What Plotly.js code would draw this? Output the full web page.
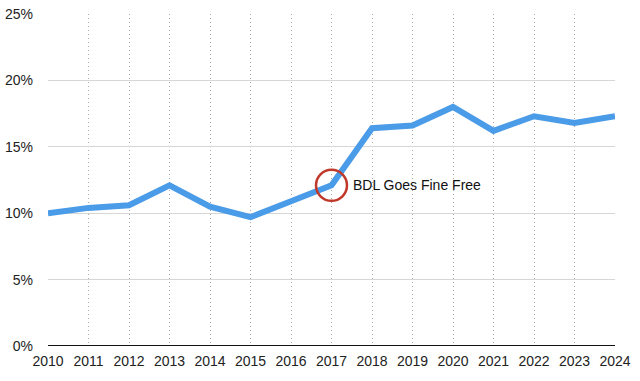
<!DOCTYPE html>
<html>
<head>
<meta charset="utf-8">
<script src="https://cdn.plot.ly/plotly-3.0.1.min.js"></script>
<style>html,body{margin:0;padding:0;background:#fff;}#chart{width:640px;height:381px;}</style>
</head>
<body>
<div id="chart"></div>
<script>
const years = [2010,2011,2012,2013,2014,2015,2016,2017,2018,2019,2020,2021,2022,2023,2024];
const shares = [10.0,10.4,10.6,12.1,10.5,9.7,10.9,12.1,16.4,16.6,18.0,16.2,17.3,16.8,17.3];
const eventYear = [2017];
const eventShare = [12.1];
const eventLabel = "BDL Goes Fine Free";
const yTicks = [0,5,10,15,20,25];
const yTickText = ["0%","5%","10%","15%","20%","25%"];

const font = {family: "Liberation Sans, Arial, Helvetica, sans-serif", size: 14, color: "#222"};

const traces = [
  {x: years, y: shares, type: "scatter", mode: "lines",
   line: {color: "#4a9be8", width: 6}, hoverinfo: "skip"},
  {x: eventYear, y: eventShare, type: "scatter", mode: "markers",
   marker: {symbol: "circle-open", size: 31, color: "#c0392b", line: {color: "#c0392b", width: 2.5}},
   hoverinfo: "skip"}
];

const layout = {
  width: 640, height: 381,
  margin: {l: 48, r: 25, t: 14, b: 35},
  paper_bgcolor: "#fff", plot_bgcolor: "#fff",
  showlegend: false,
  font: font,
  xaxis: {range: [2010, 2024], tickvals: years, ticktext: years.map(String),
          showgrid: true, gridcolor: "#aaa", griddash: "1px,3px", gridwidth: 1,
          zeroline: false, showline: false, ticks: "", ticklen: 0, tickfont: font,
          ticklabelstandoff: 5, fixedrange: true},
  yaxis: {range: [0, 25], tickvals: yTicks, ticktext: yTickText,
          showgrid: true, gridcolor: "#d6d6d6", gridwidth: 1,
          zeroline: false, showline: false, ticks: "", tickfont: font,
          ticklabelstandoff: 14, fixedrange: true},
  shapes: [
    {type: "line", xref: "paper", yref: "y", x0: 0, x1: 1, y0: 0, y1: 0,
     line: {color: "#111", width: 2}}
  ],
  annotations: [
    {x: eventYear[0], y: eventShare[0], xref: "x", yref: "y", text: eventLabel,
     showarrow: false, xanchor: "left", yanchor: "middle", xshift: 19,
     font: {family: font.family, size: 14, color: "#111"}}
  ]
};

Plotly.newPlot("chart", traces, layout, {staticPlot: true, displayModeBar: false});
</script>
</body>
</html>
